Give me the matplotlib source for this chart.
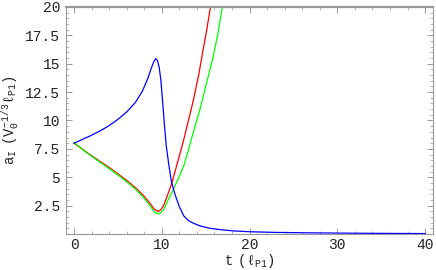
import matplotlib
matplotlib.use("Agg")
import matplotlib.pyplot as plt
from matplotlib.ticker import MultipleLocator

plt.rcParams['mathtext.fontset'] = 'custom'
plt.rcParams['mathtext.rm'] = 'Liberation Mono'
plt.rcParams['mathtext.it'] = 'Liberation Mono'
plt.rcParams['mathtext.tt'] = 'Liberation Mono'

t_blue = [0, 1, 2, 3, 4, 5, 6, 7, 7.8, 8.4, 8.8, 9.1, 9.3, 9.5, 9.7, 9.9, 10.1, 10.3,
          10.5, 10.8, 11.1, 11.5, 12.0, 12.5, 13.0, 13.6, 14.4, 15.5, 16.5, 18, 20, 23,
          27, 32, 36, 40]
a_blue = [8.0, 8.35, 8.7, 9.1, 9.55, 10.1, 10.75, 11.6, 12.6, 13.7, 14.6, 15.2, 15.45,
          15.3, 14.7, 13.5, 11.6, 9.6, 7.8, 6.1, 4.6, 3.5, 2.4, 1.6, 1.2, 0.95, 0.7, 0.5,
          0.4, 0.28, 0.2, 0.14, 0.1, 0.07, 0.05, 0.04]

t_red = [0, 1, 2, 3, 4, 5, 6, 7, 8, 8.6, 9.1, 9.4, 9.65, 9.9, 10.2, 10.6, 11.15, 11.9,
         12.5, 13.0, 13.6, 14.2, 14.7, 15.1, 15.55, 16.0]
a_red = [8.0, 7.45, 6.9, 6.38, 5.86, 5.3, 4.72, 4.08, 3.32, 2.75, 2.22, 2.05, 2.0, 2.15,
         2.5, 3.3, 4.5, 6.6, 8.3, 9.9, 11.8, 14.0, 16.2, 17.9, 20.0, 22.0]

t_green = [0, 1, 2, 3, 4, 5, 6, 7, 8, 8.6, 9.1, 9.4, 9.65, 9.9, 10.2, 10.6, 11.3, 12.0,
           12.5, 13.0, 13.6, 14.35, 15.1, 15.85, 16.4, 16.9, 17.3]
a_green = [8.05, 7.42, 6.85, 6.3, 5.76, 5.2, 4.6, 3.95, 3.15, 2.55, 2.0, 1.82, 1.78, 1.88,
           2.15, 2.8, 3.9, 5.1, 6.0, 7.3, 9.0, 11.0, 13.3, 15.6, 17.7, 20.0, 21.5]

x_ticks = [0, 10, 20, 30, 40]
y_ticks = [2.5, 5, 7.5, 10, 12.5, 15, 17.5, 20]
y_tick_labels = ['2.5', '5', '7.5', '10', '12.5', '15', '17.5', '20']

fig = plt.figure(figsize=(4.36, 2.70), dpi=100)
ax = fig.add_axes([65.7 / 436, 1 - 234 / 270, (433 - 65.7) / 436, (234 - 7) / 270])

ax.plot(t_red, a_red, color='#ff0000', lw=0.9)
ax.plot(t_green, a_green, color='#00ff00', lw=0.9)
ax.plot(t_blue, a_blue, color='#0000ff', lw=0.9)

ax.set_xlim(-0.95, 40.9)
ax.set_ylim(0, 20)
ax.set_xticks(x_ticks)
ax.set_yticks(y_ticks)
ax.set_yticklabels(y_tick_labels)
ax.xaxis.set_minor_locator(MultipleLocator(2))
ax.yaxis.set_minor_locator(MultipleLocator(0.5))

frame_col = '#999999'
for s in ax.spines.values():
    s.set_color(frame_col)
    s.set_linewidth(0.8)
ax.spines['top'].set_linewidth(1.6)

ax.tick_params(which='both', direction='in', top=True, right=True, color=frame_col,
               labelsize=10.5)
ax.tick_params(axis='y', pad=4)
ax.tick_params(axis='x', pad=3)
ax.tick_params(which='major', length=4, width=0.7)
ax.tick_params(which='minor', length=2, width=0.5)
for lab in ax.get_xticklabels() + ax.get_yticklabels():
    lab.set_fontfamily('Liberation Mono')
    lab.set_color('#222222')

ax.set_xlabel(r'$t\ \ (\ell_{P1})$', fontsize=10, color='#222222', labelpad=0)
ax.set_ylabel(r'$a_{I}\ \ (V_0^{-1/3}\ell_{P1})$', fontsize=10, color='#222222', labelpad=3)

fig.savefig('out.png', dpi=100)
